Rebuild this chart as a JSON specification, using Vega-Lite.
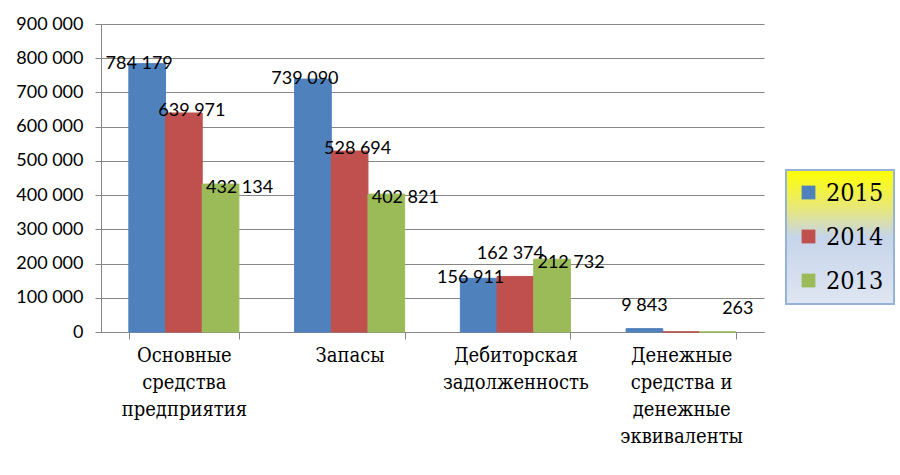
{
  "$schema": "https://vega.github.io/schema/vega-lite/v6.json",
  "autosize": "none",
  "width": 663,
  "height": 308,
  "padding": {"left": 101, "top": 24, "right": 136, "bottom": 143},
  "background": "white",
  "config": {
    "view": {"stroke": null},
    "locale": {"number": {"decimal": ",", "thousands": " ", "grouping": [3], "currency": ["", ""]}}
  },
  "data": {
    "values": [
      {"category": "Основные средства предприятия", "year": "2015", "value": 784179, "label": "784 179"},
      {"category": "Основные средства предприятия", "year": "2014", "value": 639971, "label": "639 971"},
      {"category": "Основные средства предприятия", "year": "2013", "value": 432134, "label": "432 134"},
      {"category": "Запасы", "year": "2015", "value": 739090, "label": "739 090"},
      {"category": "Запасы", "year": "2014", "value": 528694, "label": "528 694"},
      {"category": "Запасы", "year": "2013", "value": 402821, "label": "402 821"},
      {"category": "Дебиторская задолженность", "year": "2015", "value": 156911, "label": "156 911"},
      {"category": "Дебиторская задолженность", "year": "2014", "value": 162374, "label": "162 374"},
      {"category": "Дебиторская задолженность", "year": "2013", "value": 212732, "label": "212 732"},
      {"category": "Денежные средства и денежные эквиваленты", "year": "2015", "value": 9843, "label": "9 843"},
      {"category": "Денежные средства и денежные эквиваленты", "year": "2014", "value": 400, "label": ""},
      {"category": "Денежные средства и денежные эквиваленты", "year": "2013", "value": 263, "label": "263"}
    ]
  },
  "encoding": {
    "x": {
      "field": "category",
      "type": "nominal",
      "sort": null,
      "scale": {"paddingInner": 0.336, "paddingOuter": 0.168},
      "axis": {
        "title": null,
        "labelAngle": 0,
        "labelFont": "DejaVu Serif Condensed, DejaVu Serif, serif",
        "labelFontSize": 20,
        "labelColor": "black",
        "labelBaseline": "top",
        "labelPadding": 6,
        "labelLineHeight": 27,
        "labelLimit": 0,
        "tickBand": "extent",
        "tickSize": 7,
        "tickColor": "#868686",
        "domainColor": "#868686",
        "labelExpr": "datum.value == 'Основные средства предприятия' ? ['Основные','средства','предприятия'] : datum.value == 'Дебиторская задолженность' ? ['Дебиторская','задолженность'] : datum.value == 'Денежные средства и денежные эквиваленты' ? ['Денежные','средства и','денежные','эквиваленты'] : datum.value"
      }
    },
    "xOffset": {"field": "year", "type": "nominal", "scale": {"domain": ["2015", "2014", "2013"]}},
    "y": {
      "field": "value",
      "type": "quantitative",
      "scale": {"domain": [0, 900000], "nice": false},
      "axis": {
        "title": null,
        "values": [0, 100000, 200000, 300000, 400000, 500000, 600000, 700000, 800000, 900000],
        "format": ",d",
        "labelFont": "Lato",
        "labelFontSize": 18,
        "labelColor": "black",
        "labelPadding": 12,
        "tickSize": 6,
        "tickColor": "#868686",
        "domainColor": "#868686",
        "gridColor": "#868686",
        "gridOpacity": 1
      }
    }
  },
  "layer": [
    {
      "mark": {"type": "bar", "strokeWidth": 1},
      "encoding": {
        "color": {
          "field": "year",
          "type": "nominal",
          "scale": {"domain": ["2015", "2014", "2013"], "range": ["#4f81bd", "#c0504d", "#9bbb59"]},
          "legend": {
            "title": null,
            "orient": "none",
            "legendX": 685,
            "legendY": 146,
            "padding": 10,
            "rowPadding": 18,
            "symbolType": "square",
            "symbolSize": 190,
            "symbolStrokeWidth": 0,
            "symbolOpacity": 1,
            "labelFont": "DejaVu Serif Condensed, DejaVu Serif, serif",
            "labelFontSize": 25,
            "labelColor": "black",
            "labelOffset": 5,
            "strokeColor": "#95b3d7",
            "encode": {
              "legend": {
                "update": {
                  "fill": {"value": {"gradient": "linear", "x1": 0, "y1": 0, "x2": 0, "y2": 1, "stops": [
                    {"offset": 0, "color": "#ffff00"},
                    {"offset": 0.3, "color": "#e6e680"},
                    {"offset": 0.5, "color": "#c6d4ea"},
                    {"offset": 1, "color": "#dfe6f2"}
                  ]}},
                  "stroke": {"value": "#95b3d7"},
                  "strokeWidth": {"value": 2}
                }
              }
            }
          }
        },
        "stroke": {
          "field": "year",
          "type": "nominal",
          "scale": {"domain": ["2015", "2014", "2013"], "range": ["#4f81bd", "#c0504d", "#9bbb59"]},
          "legend": null
        }
      }
    },
    {
      "transform": [{"filter": "datum.year == '2015' && datum.value >= 20000"}],
      "mark": {"type": "text", "font": "Lato", "fontSize": 18, "color": "black", "align": "center", "baseline": "middle", "dx": -8, "dy": 0},
      "encoding": {"text": {"field": "label"}}
    },
    {
      "transform": [{"filter": "datum.year == '2014' && datum.value >= 200000"}],
      "mark": {"type": "text", "font": "Lato", "fontSize": 18, "color": "black", "align": "center", "baseline": "middle", "dx": 8, "dy": -2},
      "encoding": {"text": {"field": "label"}}
    },
    {
      "transform": [{"filter": "datum.year == '2013' && datum.value >= 20000"}],
      "mark": {"type": "text", "font": "Lato", "fontSize": 18, "color": "black", "align": "center", "baseline": "middle", "dx": 19, "dy": 4},
      "encoding": {"text": {"field": "label"}}
    },
    {
      "transform": [{"filter": "datum.year == '2015' && datum.value < 20000"}],
      "mark": {"type": "text", "font": "Lato", "fontSize": 18, "color": "black", "align": "center", "baseline": "bottom", "dx": 0, "dy": -14},
      "encoding": {"text": {"field": "label"}}
    },
    {
      "transform": [{"filter": "datum.year == '2014' && datum.value < 200000"}],
      "mark": {"type": "text", "font": "Lato", "fontSize": 18, "color": "black", "align": "center", "baseline": "bottom", "dx": -5, "dy": -13},
      "encoding": {"text": {"field": "label"}}
    },
    {
      "transform": [{"filter": "datum.year == '2013' && datum.value < 20000"}],
      "mark": {"type": "text", "font": "Lato", "fontSize": 18, "color": "black", "align": "center", "baseline": "bottom", "dx": 20, "dy": -14},
      "encoding": {"text": {"field": "label"}}
    }
  ]
}
